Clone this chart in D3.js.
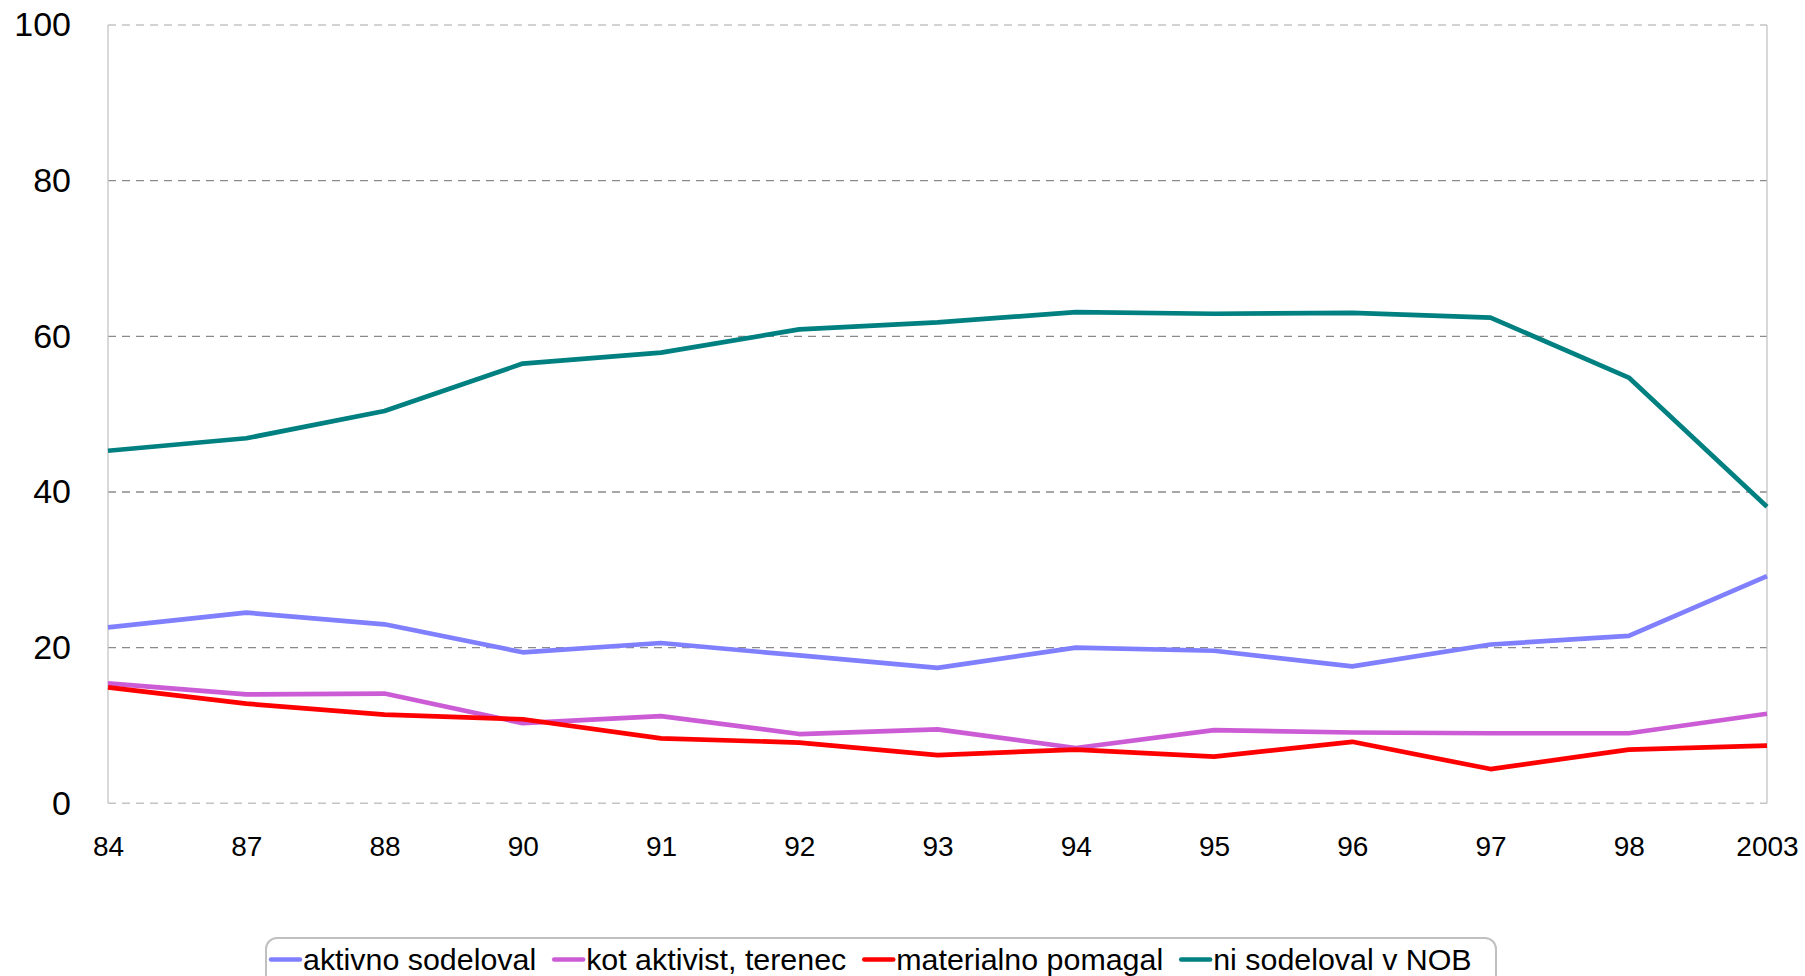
<!DOCTYPE html>
<html lang="sl">
<head>
    <meta charset="utf-8">
    <title>NOB</title>
    <style>
        body { margin: 0; background: #fff; }
        svg { display: block; font-family: "Liberation Sans", Arial, sans-serif; }
    </style>
</head>
<body>
    <script src="https://cdn.jsdelivr.net/npm/d3@7"></script>
    <script>
    var years = ["84", "87", "88", "90", "91", "92", "93", "94", "95", "96", "97", "98", "2003"];
    var aktivno = [22.6, 24.5, 23.0, 19.4, 20.6, 19.0, 17.4, 20.0, 19.6, 17.6, 20.4, 21.5, 29.2];
    var aktivist = [15.4, 14.0, 14.1, 10.3, 11.2, 8.9, 9.5, 7.1, 9.4, 9.1, 9.0, 9.0, 11.5];
    var materialno = [14.9, 12.8, 11.4, 10.8, 8.35, 7.8, 6.2, 6.9, 6.0, 7.9, 4.4, 6.9, 7.4];
    var niSodeloval = [45.3, 46.9, 50.4, 56.5, 57.9, 60.9, 61.8, 63.1, 62.9, 63.0, 62.4, 54.7, 38.1];
    var yTicks = [0, 20, 40, 60, 80, 100];

    var series = [
        {name: "aktivno sodeloval", values: aktivno, color: "#8080ff"},
        {name: "kot aktivist, terenec", values: aktivist, color: "#cc5cd6"},
        {name: "materialno pomagal", values: materialno, color: "#ff0000"},
        {name: "ni sodeloval v NOB", values: niSodeloval, color: "#008080"}
    ];

    var size = {width: 1805, height: 976};
    var plot = {left: 108, right: 1767, top: 25, bottom: 803.3};

    var x = d3.scalePoint().domain(years).range([plot.left, plot.right]);
    var y = d3.scaleLinear().domain([0, 100]).range([plot.bottom, plot.top]);

    var svg = d3.select("body").append("svg")
                .attr("width", size.width)
                .attr("height", size.height);

    // inner gridlines
    svg.append("g").selectAll("line")
        .data(yTicks.filter(function(d){ return d > 0 && d < 100; }))
        .enter().append("line")
        .attr("x1", plot.left).attr("x2", plot.right)
        .attr("y1", function(d){ return y(d); })
        .attr("y2", function(d){ return y(d); })
        .attr("stroke", "#8a8a8a")
        .attr("stroke-width", 1.3)
        .attr("stroke-dasharray", "8,6");

    // plot frame
    var frame = svg.append("g");
    [0, 100].forEach(function(v){
        frame.append("line")
            .attr("x1", plot.left).attr("x2", plot.right)
            .attr("y1", y(v)).attr("y2", y(v))
            .attr("stroke", "#c4c4c4")
            .attr("stroke-width", 1.5)
            .attr("stroke-dasharray", "8,6");
    });
    [plot.left, plot.right].forEach(function(v){
        frame.append("line")
            .attr("x1", v).attr("x2", v)
            .attr("y1", plot.top).attr("y2", plot.bottom)
            .attr("stroke", "#c4c4c4")
            .attr("stroke-width", 1.3);
    });

    var yAxis = svg.append("g")
        .attr("transform", "translate(" + plot.left + ",0)")
        .call(d3.axisLeft(y).tickValues(yTicks).tickSize(0).tickPadding(37));
    yAxis.select(".domain").remove();
    yAxis.selectAll("text").attr("font-size", 34).attr("fill", "#000")
        .attr("font-family", "Liberation Sans, Arial, sans-serif");

    var xAxis = svg.append("g")
        .attr("transform", "translate(0," + plot.bottom + ")")
        .call(d3.axisBottom(x).tickSize(0).tickPadding(33));
    xAxis.select(".domain").remove();
    xAxis.selectAll("text").attr("font-size", 28).attr("fill", "#000")
        .attr("font-family", "Liberation Sans, Arial, sans-serif");

    var line = d3.line()
        .x(function(d, i){ return x(years[i]); })
        .y(function(d){ return y(d); });

    svg.append("g").selectAll("path")
        .data(series)
        .enter().append("path")
        .attr("d", function(s){ return line(s.values); })
        .attr("fill", "none")
        .attr("stroke", function(s){ return s.color; })
        .attr("stroke-width", 4.7)
        .attr("stroke-linejoin", "round");

    // legend
    var legend = svg.append("g");
    legend.append("rect")
        .attr("x", 266).attr("y", 938)
        .attr("width", 1230).attr("height", 60)
        .attr("rx", 11)
        .attr("fill", "#fff")
        .attr("stroke", "#c0c0c0")
        .attr("stroke-width", 2);

    var lx = 271;
    series.forEach(function(s){
        legend.append("line")
            .attr("x1", lx).attr("x2", lx + 29)
            .attr("y1", 959.5).attr("y2", 959.5)
            .attr("stroke", s.color)
            .attr("stroke-width", 4.5)
            .attr("stroke-linecap", "round");
        var t = legend.append("text")
            .attr("x", lx + 32).attr("y", 969.5)
            .attr("font-size", 30.4)
            .attr("fill", "#000")
            .text(s.name);
        lx += 32 + t.node().getComputedTextLength() + 18;
    });
    </script>
</body>
</html>
